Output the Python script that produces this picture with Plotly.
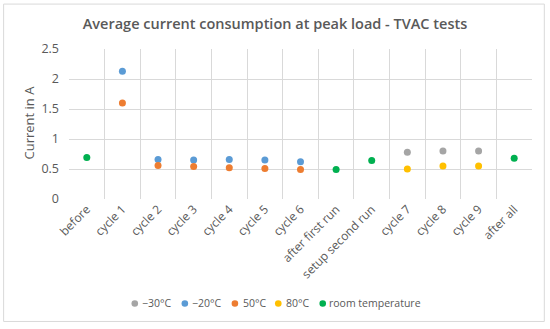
import plotly.graph_objects as go

categories = ["before", "cycle 1", "cycle 2", "cycle 3", "cycle 4", "cycle 5", "cycle 6",
              "after first run", "setup second run", "cycle 7", "cycle 8", "cycle 9", "after all"]

series_names = ["\u221230\u00b0C", "\u221220\u00b0C", "50\u00b0C", "80\u00b0C", "room temperature"]
series_colors = ["#A5A5A5", "#5B9BD5", "#ED7D31", "#FFC000", "#00B050"]

minus30 = [None, None, None, None, None, None, None, None, None, 0.78, 0.80, 0.80, None]
minus20 = [None, 2.13, 0.66, 0.65, 0.66, 0.65, 0.62, None, None, None, None, None, None]
plus50 = [None, 1.60, 0.56, 0.54, 0.52, 0.51, 0.49, None, None, None, None, None, None]
plus80 = [None, None, None, None, None, None, None, None, None, 0.50, 0.55, 0.55, None]
room = [0.69, None, None, None, None, None, None, 0.49, 0.64, None, None, None, 0.68]

series_values = [minus30, minus20, plus50, plus80, room]

yticks = [0, 0.5, 1, 1.5, 2, 2.5]
ytick_labels = ["0", "0.5", "1", "1.5", "2", "2.5"]

FONT = "Open Sans, Liberation Sans, sans-serif"
TXT = "#595959"
GRID = "#D9D9D9"

W, H = 550, 329
L, R, T, B = 69.3, 531.7, 49.0, 199.3   # plot area in pixels


def px(x):
    return (x - L) / (R - L)


def py(y):
    return (B - y) / (B - T)


idx = list(range(len(categories)))

fig = go.Figure()
for name, color, vals in zip(series_names, series_colors, series_values):
    fig.add_trace(go.Scatter(
        x=idx, y=vals, mode="markers", name=name, showlegend=False,
        marker=dict(color=color, size=7),
    ))

fig.update_layout(
    width=W, height=H,
    margin=dict(l=L, r=W - R, t=T, b=H - B),
    paper_bgcolor="white", plot_bgcolor="white",
    font=dict(family=FONT, color=TXT, size=11),
    title=dict(text="Average current consumption at peak load - TVAC tests",
               x=0.5, xanchor="center", xref="container",
               y=1 - 24 / H, yanchor="middle", yref="container",
               font=dict(size=14.5, color=TXT, family=FONT, weight=600)),
    showlegend=False,
    xaxis=dict(
        range=[-0.5, len(categories) - 0.5],
        tickmode="array", tickvals=idx, ticktext=categories,
        tickangle=-45, showgrid=False, zeroline=False,
        showline=False, ticks="", automargin=False,
        tickfont=dict(size=12, color=TXT),
        minor=dict(tickmode="array", tickvals=[i - 0.5 for i in range(len(categories) + 1)],
                   showgrid=True, gridcolor=GRID, gridwidth=1, ticks=""),
    ),
    yaxis=dict(
        range=[0, 2.5], tickmode="array", tickvals=yticks, ticktext=ytick_labels,
        showgrid=True, gridcolor=GRID, gridwidth=1, zeroline=False,
        showline=False, ticks="", automargin=False, ticklabelstandoff=9,
        tickfont=dict(size=12.5, color=TXT),
    ),
)

# y-axis title
fig.add_annotation(text="Current in A", xref="paper", yref="paper",
                   x=px(29), y=py(123), xanchor="center", yanchor="middle",
                   textangle=-90, showarrow=False,
                   font=dict(size=13, color=TXT, family=FONT))

# legend (custom, compact like the original)
legend_marker_x = [135, 185, 235, 278.3, 322.7]
legend_text_x = [141.7, 190.7, 241.7, 285, 328.3]
legend_y = 304
for name, color, mx, tx in zip(series_names, series_colors, legend_marker_x, legend_text_x):
    fig.add_shape(type="circle", xref="paper", yref="paper",
                  xsizemode="pixel", ysizemode="pixel",
                  xanchor=px(mx), yanchor=py(legend_y),
                  x0=-3.3, x1=3.3, y0=-3.3, y1=3.3,
                  fillcolor=color, line=dict(width=0))
    fig.add_annotation(text=name, xref="paper", yref="paper",
                       x=px(tx - 1), y=py(legend_y), xanchor="left", yanchor="middle",
                       showarrow=False, font=dict(size=10.5, color=TXT, family=FONT))

# chart border
fig.add_shape(type="rect", xref="paper", yref="paper",
              x0=px(4), x1=px(544), y0=py(322), y1=py(4),
              line=dict(color=GRID, width=1), fillcolor="rgba(0,0,0,0)", layer="below")

fig.write_html("out.html",
               config={"displayModeBar": False, "staticPlot": True},
               post_script="document.body.style.margin='0';document.body.style.overflow='hidden';")
